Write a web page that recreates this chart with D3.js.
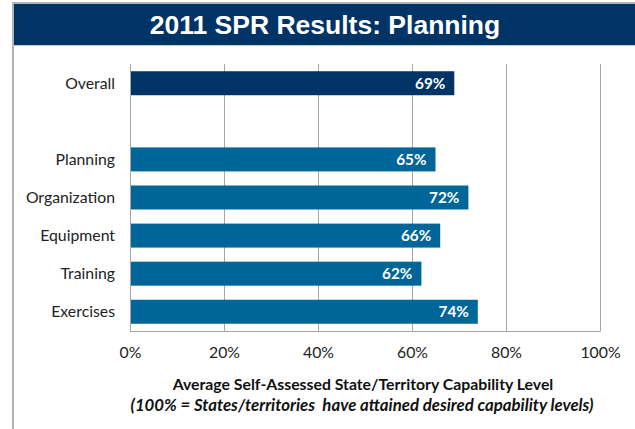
<!DOCTYPE html>
<html>
<head>
    <title>2011 SPR Results: Planning</title>
    <meta charset="utf-8">
    <style>
        body { margin: 0; background: #fff; }
        svg { display: block; }
        .cat { font-family: Lato, "Open Sans", sans-serif; font-size: 15.8px; fill: #222; }
        .tick text { font-family: Lato, "Open Sans", sans-serif; font-size: 15.8px; fill: #222; }
        .val { font-family: Lato, "Open Sans", sans-serif; font-size: 15.3px; font-weight: bold; fill: #fff; }
        .axtitle { font-family: Lato, "Open Sans", sans-serif; font-size: 15.8px; font-weight: bold; fill: #111; white-space: pre; }
        .axtitle.sub { font-size: 16.8px; font-style: italic; }
    </style>
    <script src="https://cdn.jsdelivr.net/npm/d3@7"></script>
</head>
<body>
    <svg width="635" height="429"></svg>

    <script>
        // chart data
        var categories = ["Overall", "", "Planning", "Organization", "Equipment", "Training", "Exercises"];
        var values = [69, null, 65, 72, 66, 62, 74];
        var barColors = ["#003366", null, "#006699", "#006699", "#006699", "#006699", "#006699"];
        var tickValues = [0, 20, 40, 60, 80, 100];

        var svg = d3.select("svg");

        // frame + title banner
        svg.append("rect").attr("x", 13).attr("y", 3).attr("width", 630).attr("height", 440)
            .attr("fill", "none").attr("stroke", "#b3b3b3").attr("stroke-width", 2);
        svg.append("rect").attr("x", 14).attr("y", 4).attr("width", 621).attr("height", 41)
            .attr("fill", "#003366");
        svg.append("line").attr("x1", 14).attr("x2", 635).attr("y1", 45.5).attr("y2", 45.5)
            .attr("stroke", "#c8ccd4");
        svg.append("text").attr("x", 325).attr("y", 34).attr("text-anchor", "middle")
            .attr("font-family", "Arial, 'Liberation Sans', sans-serif").attr("font-weight", "bold")
            .attr("font-size", 26.5).attr("fill", "#fff").text("2011 SPR Results: Planning");

        var x = d3.scaleLinear().domain([0, 100]).range([130, 600]);
        var y = d3.scaleBand().domain(d3.range(categories.length)).range([64, 331])
            .paddingInner(0.37).paddingOuter(0.19);

        // gridlines
        svg.append("g").selectAll("line").data(tickValues.slice(1)).enter().append("line")
            .attr("x1", function (d) { return x(d) + 0.5; })
            .attr("x2", function (d) { return x(d) + 0.5; })
            .attr("y1", 64).attr("y2", 331)
            .attr("stroke", "#a6a6a6").attr("stroke-width", 1);

        // axes lines
        svg.append("line").attr("x1", 130.5).attr("x2", 130.5).attr("y1", 64).attr("y2", 331.5)
            .attr("stroke", "#a6a6a6");
        svg.append("line").attr("x1", 130).attr("x2", 600.5).attr("y1", 331.5).attr("y2", 331.5)
            .attr("stroke", "#a6a6a6");

        // x axis labels
        var xAxis = d3.axisBottom(x).tickValues(tickValues)
            .tickFormat(function (d) { return d + "%"; }).tickSize(0).tickPadding(0);
        var gx = svg.append("g").attr("transform", "translate(0,347)").call(xAxis);
        gx.select(".domain").remove();

        // bars
        var rows = categories.map(function (c, i) { return { cat: c, value: values[i], color: barColors[i], i: i }; });
        var bars = rows.filter(function (d) { return d.value != null; });

        svg.append("g").selectAll("rect").data(bars).enter().append("rect")
            .attr("x", x(0) + 1)
            .attr("y", function (d) { return y(d.i); })
            .attr("width", function (d) { return x(d.value) - x(0) - 1; })
            .attr("height", y.bandwidth())
            .attr("fill", function (d) { return d.color; });

        svg.append("g").selectAll("text").data(bars).enter().append("text")
            .attr("class", "val")
            .attr("x", function (d) { return x(d.value) - 9; })
            .attr("y", function (d) { return y(d.i) + y.bandwidth() / 2 + 5.5; })
            .attr("text-anchor", "end")
            .text(function (d) { return d.value + "%"; });

        // category labels
        svg.append("g").selectAll("text").data(rows.filter(function (d) { return d.cat; })).enter().append("text")
            .attr("class", "cat")
            .attr("x", 115)
            .attr("y", function (d) { return y(d.i) + y.bandwidth() / 2 + 5.5; })
            .attr("text-anchor", "end")
            .text(function (d) { return d.cat; });

        // axis title
        svg.append("text").attr("class", "axtitle").attr("x", 363).attr("y", 390).attr("text-anchor", "middle")
            .text("Average Self-Assessed State/Territory Capability Level");
        svg.append("text").attr("class", "axtitle sub").attr("x", 362).attr("y", 411).attr("text-anchor", "middle")
            .text("(100% = States/territories  have attained desired capability levels)");
    </script>
</body>
</html>
